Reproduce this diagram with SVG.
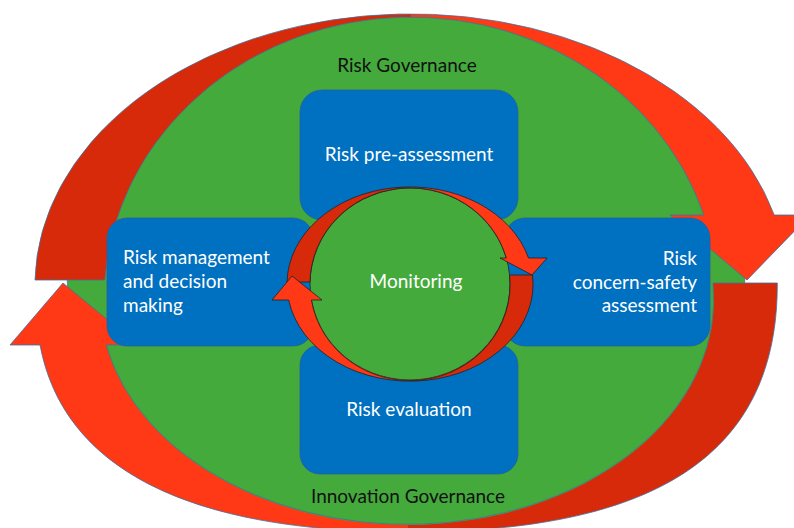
<svg xmlns="http://www.w3.org/2000/svg" width="794" height="528" viewBox="0 0 794 528">
<style>
.bg{fill:#44AA3C;stroke:#41719C;stroke-width:0.8}
.dk{fill:#D62A0A;stroke:none}
.br{fill:#FF3816;stroke:none}
.olb{fill:none;stroke:#41719C;stroke-width:0.8}
.olk{fill:none;stroke:#222;stroke-width:0.8}
.box{fill:#0070C0;stroke:#2A5F9A;stroke-width:0.8}
.t{font-family:Lato,"Open Sans","Liberation Sans",sans-serif;font-size:19px}
.w{fill:#FFFFFF}
.k{fill:#111111}
</style>
<rect width="794" height="528" fill="#FFFFFF"/>
<g id="governance">
<ellipse class="bg" cx="406" cy="271" rx="339" ry="255"/>
</g>
<g id="connectors">
<g id="outer-top-arrow">
<path class="dk" d="M35,280 A376 271 0 0 1 411,14 L411,17 A307 283 0 0 0 104.8,280 Z"/>
<path class="br" d="M411,14 A376 271 0 0 1 774.2,215 L810,215 L747,280 L670,215 L703.8,215 A307 283 0 0 0 411,17 Z"/>
<path class="olb" d="M35,280 A376 271 0 0 1 774.2,215 L810,215 L747,280 L670,215 L703.8,215 A307 283 0 0 0 104.8,280 Z"/>
</g>
<g id="outer-bottom-arrow">
<path class="dk" d="M713,283 L777.3,283 C778,452 660,532 408,532 L408,525 A307 225 0 0 0 713,283 Z"/>
<path class="br" d="M408,532 C187.8,532 63.3,468.5 40,345 L10,345 L63,283 L138,345 L106.2,345 A307 225 0 0 0 408,525 Z"/>
<path class="olb" d="M713,283 L777.3,283 C778,452 660,532 408,532 C187.8,532 63.3,468.5 40,345 L10,345 L63,283 L138,345 L106.2,345 A307 225 0 0 0 713,283 Z"/>
</g>
</g>
<g id="risk-pre-assessment">
<rect class="box" x="300" y="90" width="218" height="130" rx="22"/>
<text class="t w" x="409" y="161" text-anchor="middle">Risk pre-assessment</text>
</g>
<g id="risk-management">
<rect class="box" x="107" y="218" width="206" height="128" rx="20"/>
<text class="t w" x="123" y="264">Risk management</text>
<text class="t w" x="123" y="288">and decision</text>
<text class="t w" x="123" y="312">making</text>
</g>
<g id="risk-concern">
<rect class="box" x="505" y="218" width="205" height="128" rx="20"/>
<text class="t w" x="697" y="265" text-anchor="end">Risk</text>
<text class="t w" x="697" y="289" text-anchor="end">concern-safety</text>
<text class="t w" x="697" y="312" text-anchor="end">assessment</text>
</g>
<g id="risk-evaluation">
<rect class="box" x="300" y="345" width="218" height="129" rx="20"/>
<text class="t w" x="409" y="416" text-anchor="middle">Risk evaluation</text>
</g>
<g id="monitoring">
<ellipse cx="410" cy="284" rx="100" ry="96" fill="#44AA3C" stroke="#222" stroke-width="0.8"/>
<text class="t w" x="416" y="288" text-anchor="middle">Monitoring</text>
</g>
<g id="inner-arrows">
<g id="inner-top-arrow">
<path class="dk" d="M287,282 A123 97 0 0 1 410,187 L410,188 A100 96 0 0 0 310,282 Z"/>
<path class="br" d="M410,187 A123 97 0 0 1 528.5,258 L547,258 L532,275 L500,258 L506.3,258 A100 96 0 0 0 410,188 Z"/>
<path class="olk" d="M287,282 A123 97 0 0 1 528.5,258 L547,258 L532,275 L500,258 L506.3,258 A100 96 0 0 0 310,282 Z"/>
</g>
<g id="inner-bottom-arrow">
<path class="dk" d="M509.6,275 L532.5,275 A123 97 0 0 1 410,381 L410,380 A100 96 0 0 0 509.6,275 Z"/>
<path class="br" d="M410,381 A123 97 0 0 1 288.7,300 L272,300 L292,276 L322,300 L311.4,300 A100 96 0 0 0 410,380 Z"/>
<path class="olk" d="M509.6,275 L532.5,275 A123 97 0 0 1 288.7,300 L272,300 L292,276 L322,300 L311.4,300 A100 96 0 0 0 509.6,275 Z"/>
</g>
</g>
<g id="labels">
<text class="t k" x="407" y="72" text-anchor="middle">Risk Governance</text>
<text class="t k" x="408" y="503" text-anchor="middle">Innovation Governance</text>
</g>
</svg>
